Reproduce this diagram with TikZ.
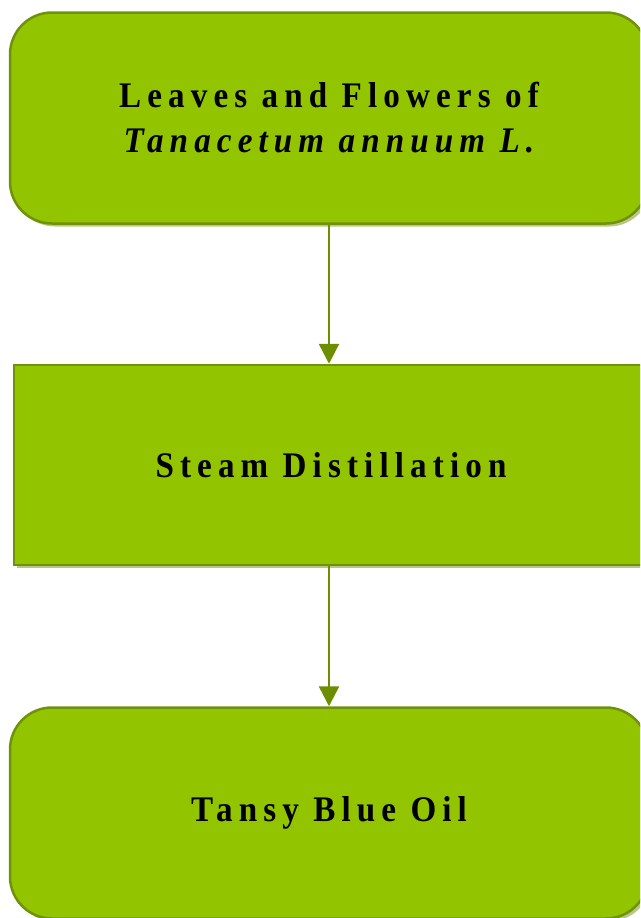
\documentclass[tikz,border=0pt]{standalone}
\usepackage{fontspec}
\setmainfont{Liberation Serif}
\newfontfamily\boxfont[LetterSpace=17,FakeStretch=0.92]{Liberation Serif}
\usetikzlibrary{arrows.meta,shadows}
\definecolor{boxfill}{RGB}{147,196,0}
\definecolor{boxline}{RGB}{112,146,10}
\definecolor{arrowc}{RGB}{108,142,0}
\definecolor{shadowc}{RGB}{185,198,140}
\tikzset{
  base/.style={draw=boxline, fill=boxfill, line width=2.5pt, minimum width=638pt, minimum height=211pt,
    inner sep=0pt, align=center, font=\boxfont\bfseries\fontsize{36}{45}\selectfont,
    drop shadow={shadow xshift=3pt, shadow yshift=-3pt, fill=shadowc, opacity=1}},
  roundbox/.style={base, rounded corners=42pt},
  sqbox/.style={base, minimum width=634pt, minimum height=200pt},
  conn/.style={draw=arrowc, line width=2.5pt, -{Triangle[length=20pt,width=20pt]}}
}
\begin{document}
\begin{tikzpicture}[x=1pt,y=-1pt]
\clip (0,0) rectangle (640,918);
\useasboundingbox (0,0) rectangle (640,918);
\node[roundbox] (a) at (329,118) {Leaves and Flowers of\\\itshape Tanacetum annuum L.};
\node[sqbox] (b) at (331,465) {Steam Distillation};
\node[roundbox] (c) at (329,813) {Tansy Blue Oil};
\draw[conn] (a.south -| 329,0) -- (b.north -| 329,0);
\draw[conn] (b.south -| 329,0) -- (c.north -| 329,0);
\end{tikzpicture}
\end{document}
